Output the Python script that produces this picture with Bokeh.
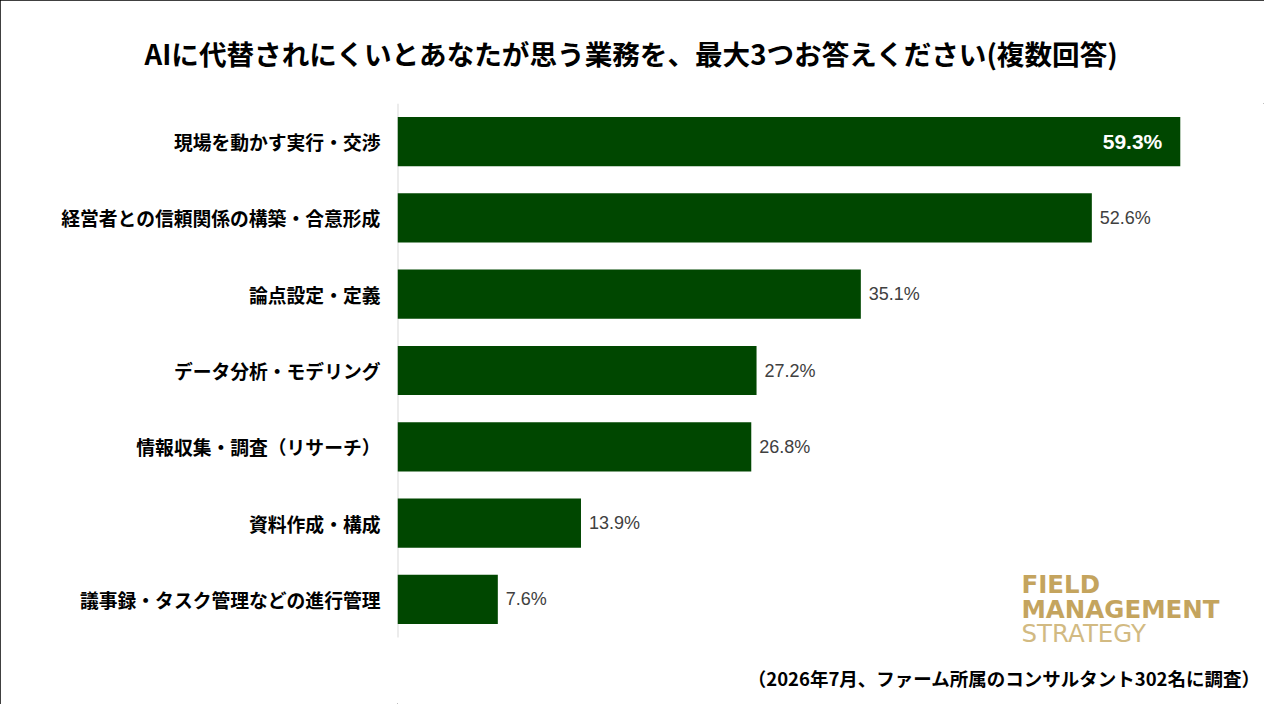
from bokeh.plotting import figure
from bokeh.models import ColumnDataSource, Range1d, Label, FixedTicker
from bokeh.core.properties import value
from bokeh.embed import file_html
from bokeh.resources import INLINE

# ---- data ----
categories = [
    "現場を動かす実行・交渉",
    "経営者との信頼関係の構築・合意形成",
    "論点設定・定義",
    "データ分析・モデリング",
    "情報収集・調査（リサーチ）",
    "資料作成・構成",
    "議事録・タスク管理などの進行管理",
]
values = [59.3, 52.6, 35.1, 27.2, 26.8, 13.9, 7.6]

title_text = "AIに代替されにくいとあなたが思う業務を、最大3つお答えください(複数回答)"
note_text = "（2026年7月、ファーム所属のコンサルタント302名に調査）"
logo_lines = ["FIELD", "MANAGEMENT", "STRATEGY"]

BAR = "#004700"
JP = "Noto Sans CJK JP"

n = len(categories)
pos = list(range(n))  # category index, 0 at top

W, H = 1264, 704
p = figure(
    width=W, height=H,
    y_range=Range1d(start=7.378, end=-0.5),   # inverted: first category on top
    x_range=Range1d(0, 65.68),
    output_backend="svg", toolbar_location=None,
    min_border_left=397, min_border_right=0,
    min_border_top=103, min_border_bottom=0,
)
p.styles = {"outline": "1px solid #000000", "outline-offset": "-1px"}
p.outline_line_color = None
p.background_fill_color = "white"
p.border_fill_color = "white"
p.xgrid.visible = False
p.ygrid.visible = False
p.xaxis.visible = False

ax = p.yaxis[0]
ax.ticker = FixedTicker(ticks=pos)
ax.major_label_overrides = {i: c for i, c in zip(pos, categories)}
ax.axis_line_color = None
ax.major_tick_line_color = None
ax.minor_tick_line_color = None
ax.major_tick_out = 0
ax.major_tick_in = 0
ax.major_label_standoff = 17
ax.major_label_text_font = JP
ax.major_label_text_font_size = "18.8px"
ax.major_label_text_font_style = "bold"
ax.major_label_text_color = "#000000"

# axis line spanning only the category bands
p.segment(x0=[0], y0=[-0.5], x1=[0], y1=[n - 0.5], line_color="#D9D9D9", line_width=2)

src = ColumnDataSource(dict(y=pos, cat=categories, val=values))
p.hbar(y="y", right="val", left=0, height=0.645, source=src,
       fill_color=BAR, line_color=None)

vmax = max(values)
out_y = [i for i, v in zip(pos, values) if v != vmax]
out_v = [v for v in values if v != vmax]
in_y = [i for i, v in zip(pos, values) if v == vmax]
in_v = [v for v in values if v == vmax]

out_src = ColumnDataSource(dict(y=out_y, val=out_v, txt=[f"{v:.1f}%" for v in out_v]))
in_src = ColumnDataSource(dict(y=in_y, val=in_v, txt=[f"{v:.1f}%" for v in in_v]))

p.text(x="val", y="y", text="txt", source=out_src, x_offset=8,
       text_align="left", text_baseline="middle",
       text_font=value("Liberation Sans"), text_font_size="18px",
       text_color="#404040")
p.text(x="val", y="y", text="txt", source=in_src, x_offset=-18,
       text_align="right", text_baseline="middle",
       text_font=value("Liberation Sans"), text_font_size="21px",
       text_font_style="bold", text_color="#FFFFFF")

# title
p.title.text = title_text
p.title.align = "left"
p.title.offset = -253
p.title.standoff = 61
p.title.text_font = JP
p.title.text_font_size = "27.6px"
p.title.text_font_style = "bold"
p.title.text_color = "#000000"

# footnote
p.add_layout(Label(x=65.38, y=7.037, text=note_text, text_align="right",
                   text_baseline="middle", text_font=JP, text_font_size="18.5px",
                   text_font_style="bold", text_color="#000000"))

# logo
logo_y = [5.811, 6.133, 6.447]
logo_style = ["bold", "bold", "normal"]
logo_col = ["#C4A45E", "#C4A45E", "#D2BA82"]
for t, yy, st, col in zip(logo_lines, logo_y, logo_style, logo_col):
    p.add_layout(Label(x=47.27, y=yy, text=t, text_align="left",
                       text_baseline="middle", text_font="DejaVu Sans",
                       text_font_size="24.5px", text_font_style=st,
                       text_color=col))

open("out.html", "w").write(file_html(p, INLINE))
